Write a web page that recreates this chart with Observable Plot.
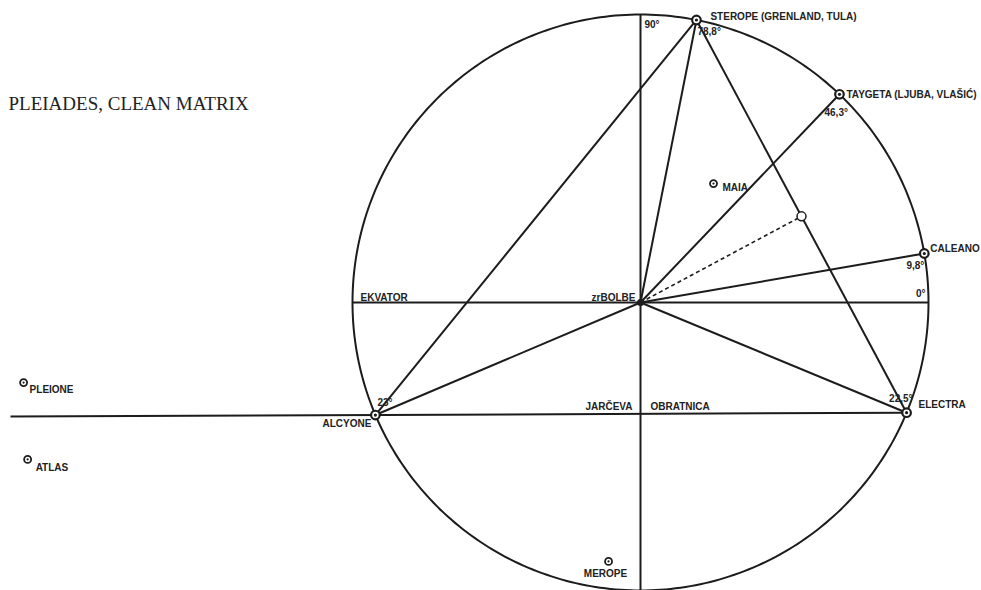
<!DOCTYPE html>
<html><head><meta charset="utf-8">
<script src="https://cdn.jsdelivr.net/npm/d3@7"></script>
<script src="https://cdn.jsdelivr.net/npm/@observablehq/plot@0.6"></script>
<style>body{margin:0;background:#fff}#chart{width:981px;height:590px}</style>
</head><body><div id="chart"></div>
<script>
// ---- data ----
const title = "PLEIADES, CLEAN MATRIX";
// stars on the circle (angle in degrees, measured from the equator "0°")
const rimStars = ["STEROPE (GRENLAND, TULA)", "TAYGETA (LJUBA, VLAŠIĆ)", "CALEANO", "ELECTRA", "ALCYONE"];
const rimAngles = [78.8, 46.3, 9.8, -22.5, 203];
const rimAngleLabels = ["78,8°", "46,3°", "9,8°", "22,5°", "23°"];
// other stars, in circle radii from the centre zrBOLBE
const freeStars = ["MAIA", "PLEIONE", "ATLAS", "MEROPE"];
const freeX = [0.2535, -2.142, -2.128, -0.111];
const freeY = [0.413, -0.278, -0.545, -0.899];
const axisLabels = ["90°", "0°"];
const lineLabels = ["EKVATOR", "zrBOLBE", "JARČEVA", "OBRATNICA"];
const tropicLeftX = -2.1875;

// ---- geometry ----
const rad = d => d * Math.PI / 180;
const rim = rimStars.map((n, i) => ({name: n, x: Math.cos(rad(rimAngles[i])), y: Math.sin(rad(rimAngles[i])), angle: rimAngleLabels[i]}));
const S = name => rim.find(d => d.name.startsWith(name));
const free = freeStars.map((n, i) => ({name: n, x: freeX[i], y: freeY[i]}));
const C = {x: 0, y: 0};
const ster = S("STEROPE"), tayg = S("TAYGETA"), cale = S("CALEANO"), elec = S("ELECTRA"), alcy = S("ALCYONE");
const lineY = (a, b, x) => a.y + (b.y - a.y) * (x - a.x) / (b.x - a.x);
const tropicLeft = {x: tropicLeftX, y: lineY(alcy, elec, tropicLeftX)};
const tropicMid = {x: 0, y: lineY(alcy, elec, 0)};
const mid = {x: (ster.x + elec.x) / 2, y: (ster.y + elec.y) / 2};
const circle = d3.range(0, 361).map(a => ({x: Math.cos(rad(a)), y: Math.sin(rad(a))}));
const seg = (a, b) => ({x1: a.x, y1: a.y, x2: b.x, y2: b.y});
const segments = [
  seg({x: 0, y: 1}, {x: 0, y: -1}),
  seg({x: -1, y: 0}, {x: 1, y: 0}),
  seg(tropicLeft, elec),
  seg(C, ster), seg(C, tayg), seg(C, cale), seg(C, elec), seg(C, alcy),
  seg(alcy, ster), seg(ster, elec)
];

// ---- layout ----
const W = 981, H = 590, R = 288, CX = 640, CY = 302;
const ink = "#1c1c1c";
const font = "Liberation Sans, Arial, sans-serif";
const lab = (text, p, dx, dy, anchor) => Plot.text([p], {x: "x", y: "y", text: () => text, dx, dy, textAnchor: anchor,
  fontFamily: font, fontWeight: "bold", fontSize: 10, fill: "#222"});

const marks = [
  Plot.line(circle, {x: "x", y: "y", stroke: ink, strokeWidth: 2}),
  Plot.link(segments, {x1: "x1", y1: "y1", x2: "x2", y2: "y2", stroke: ink, strokeWidth: 2}),
  Plot.link([seg(C, mid)], {x1: "x1", y1: "y1", x2: "x2", y2: "y2", stroke: ink, strokeWidth: 1.6, strokeDasharray: "4,3"}),
  Plot.dot([mid], {x: "x", y: "y", r: 4.5, stroke: ink, strokeWidth: 1.5, fill: "white"}),
  Plot.dot([C], {x: "x", y: "y", r: 3.5, fill: ink}),
  Plot.dot(rim, {x: "x", y: "y", r: 4.3, stroke: ink, strokeWidth: 2.2, fill: "white"}),
  Plot.dot(rim, {x: "x", y: "y", r: 1.6, fill: ink}),
  Plot.dot(free, {x: "x", y: "y", r: 3.5, stroke: ink, strokeWidth: 1.8, fill: "white"}),
  Plot.dot(free, {x: "x", y: "y", r: 1.1, fill: ink}),
  // star labels
  lab(ster.name, ster, 14, -3, "start"),
  lab(ster.angle, ster, 1, 12, "start"),
  lab(tayg.name, tayg, 7, 1, "start"),
  lab(tayg.angle, tayg, -15, 19, "start"),
  lab(cale.name, cale, 6, -5, "start"),
  lab(cale.angle, cale, 0, 12, "end"),
  lab(elec.name, elec, 12, -8, "start"),
  lab(elec.angle, elec, 6, -14, "end"),
  lab(alcy.name, alcy, -4, 9, "end"),
  lab(alcy.angle, alcy, 2, -12, "start"),
  lab("MAIA", free[0], 9, 4, "start"),
  lab("PLEIONE", free[1], 6, 7, "start"),
  lab("ATLAS", free[2], 8, 8, "start"),
  lab("MEROPE", free[3], -3, 12, "middle"),
  // axis & line labels
  lab(axisLabels[0], {x: 0, y: 1}, 4, 10, "start"),
  lab(axisLabels[1], {x: 1, y: 0}, -3, -9, "end"),
  lab(lineLabels[0], {x: -1, y: 0}, 8, -5, "start"),
  lab(lineLabels[1], C, -5, -5, "end"),
  lab(lineLabels[2], tropicMid, -8, -7, "end"),
  lab(lineLabels[3], tropicMid, 10, -7, "start"),
  Plot.text([title], {frameAnchor: "top-left", dx: 8, dy: 103, textAnchor: "start", lineAnchor: "middle",
    fontFamily: "Liberation Serif, Times New Roman, serif", fontSize: 19, fill: "#222"})
];

const chart = Plot.plot({
  width: W, height: H, margin: 0,
  x: {domain: [-CX / R, (W - CX) / R], range: [0, W], axis: null},
  y: {domain: [-(H - CY) / R, CY / R], range: [H, 0], axis: null},
  marks
});
document.getElementById("chart").appendChild(chart);
</script>
</body></html>
